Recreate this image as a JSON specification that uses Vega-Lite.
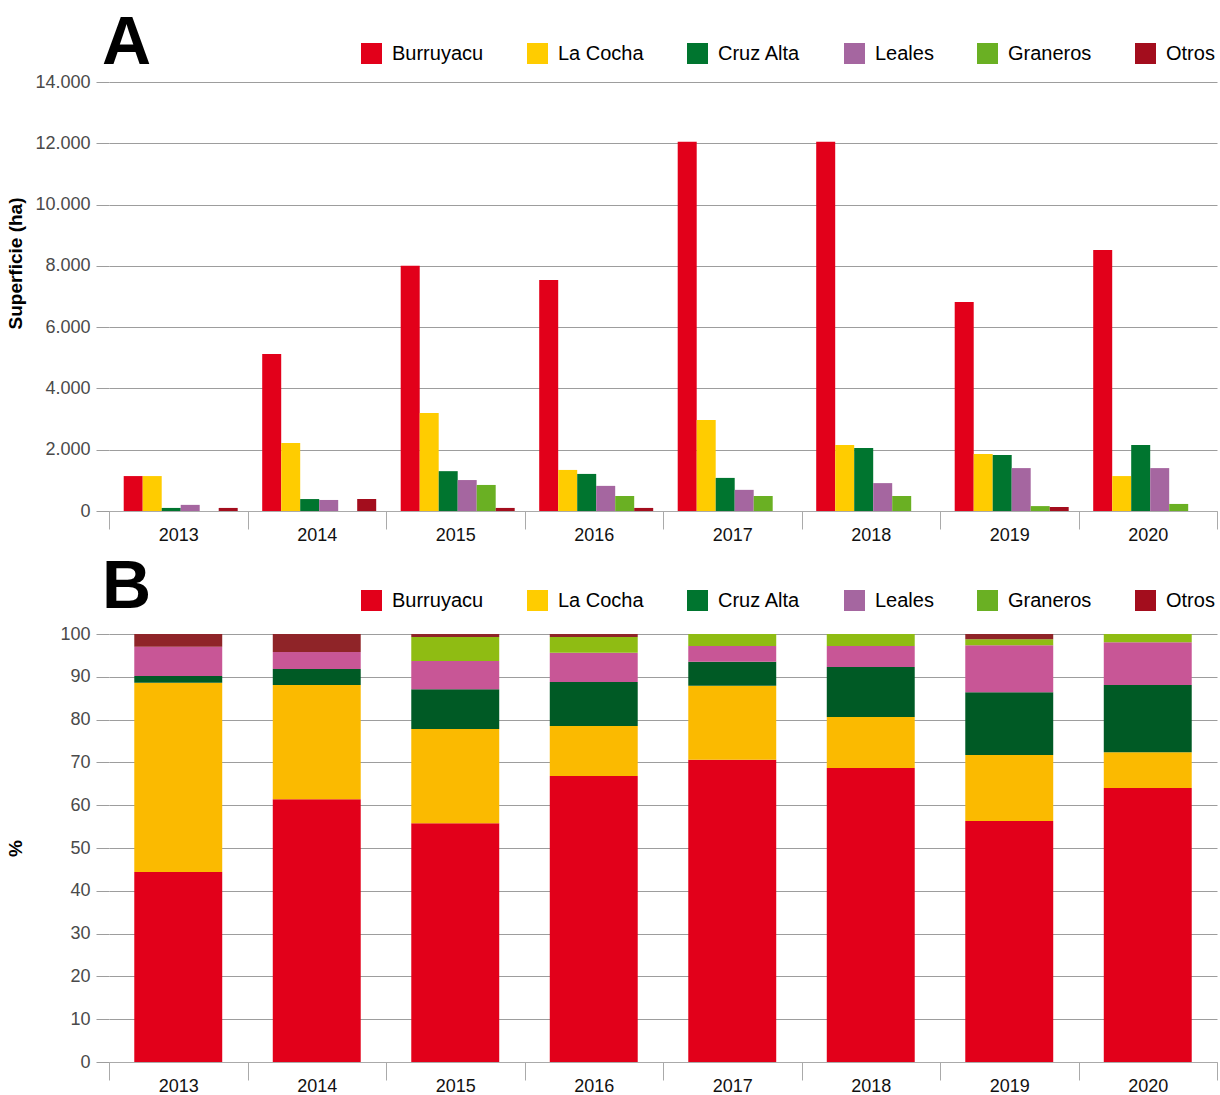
{
  "$schema": "https://vega.github.io/schema/vega-lite/v6.json",
  "padding": {"top": 10, "left": 6, "right": 2, "bottom": 0},
  "background": "white",
  "datasets": {
    "area": [
      {"year": "2013", "district": "Burruyacu", "ha": 1140},
      {"year": "2013", "district": "La Cocha", "ha": 1140},
      {"year": "2013", "district": "Cruz Alta", "ha": 100},
      {"year": "2013", "district": "Leales", "ha": 200},
      {"year": "2013", "district": "Graneros", "ha": 0},
      {"year": "2013", "district": "Otros", "ha": 100},
      {"year": "2014", "district": "Burruyacu", "ha": 5120},
      {"year": "2014", "district": "La Cocha", "ha": 2220},
      {"year": "2014", "district": "Cruz Alta", "ha": 390},
      {"year": "2014", "district": "Leales", "ha": 360},
      {"year": "2014", "district": "Graneros", "ha": 0},
      {"year": "2014", "district": "Otros", "ha": 390},
      {"year": "2015", "district": "Burruyacu", "ha": 8000},
      {"year": "2015", "district": "La Cocha", "ha": 3200},
      {"year": "2015", "district": "Cruz Alta", "ha": 1300},
      {"year": "2015", "district": "Leales", "ha": 1010},
      {"year": "2015", "district": "Graneros", "ha": 850},
      {"year": "2015", "district": "Otros", "ha": 100},
      {"year": "2016", "district": "Burruyacu", "ha": 7540},
      {"year": "2016", "district": "La Cocha", "ha": 1340},
      {"year": "2016", "district": "Cruz Alta", "ha": 1210},
      {"year": "2016", "district": "Leales", "ha": 820},
      {"year": "2016", "district": "Graneros", "ha": 490},
      {"year": "2016", "district": "Otros", "ha": 100},
      {"year": "2017", "district": "Burruyacu", "ha": 12050},
      {"year": "2017", "district": "La Cocha", "ha": 2970},
      {"year": "2017", "district": "Cruz Alta", "ha": 1080},
      {"year": "2017", "district": "Leales", "ha": 690},
      {"year": "2017", "district": "Graneros", "ha": 490},
      {"year": "2017", "district": "Otros", "ha": 0},
      {"year": "2018", "district": "Burruyacu", "ha": 12050},
      {"year": "2018", "district": "La Cocha", "ha": 2150},
      {"year": "2018", "district": "Cruz Alta", "ha": 2060},
      {"year": "2018", "district": "Leales", "ha": 910},
      {"year": "2018", "district": "Graneros", "ha": 490},
      {"year": "2018", "district": "Otros", "ha": 0},
      {"year": "2019", "district": "Burruyacu", "ha": 6820},
      {"year": "2019", "district": "La Cocha", "ha": 1860},
      {"year": "2019", "district": "Cruz Alta", "ha": 1830},
      {"year": "2019", "district": "Leales", "ha": 1400},
      {"year": "2019", "district": "Graneros", "ha": 160},
      {"year": "2019", "district": "Otros", "ha": 130},
      {"year": "2020", "district": "Burruyacu", "ha": 8520},
      {"year": "2020", "district": "La Cocha", "ha": 1140},
      {"year": "2020", "district": "Cruz Alta", "ha": 2150},
      {"year": "2020", "district": "Leales", "ha": 1400},
      {"year": "2020", "district": "Graneros", "ha": 230},
      {"year": "2020", "district": "Otros", "ha": 0}
    ],
    "pct": [
      {"year": "2013", "district": "Burruyacu", "pct": 44.4},
      {"year": "2013", "district": "La Cocha", "pct": 44.2},
      {"year": "2013", "district": "Cruz Alta", "pct": 1.6},
      {"year": "2013", "district": "Leales", "pct": 6.8},
      {"year": "2013", "district": "Graneros", "pct": 0},
      {"year": "2013", "district": "Otros", "pct": 3.0},
      {"year": "2014", "district": "Burruyacu", "pct": 61.4},
      {"year": "2014", "district": "La Cocha", "pct": 26.7},
      {"year": "2014", "district": "Cruz Alta", "pct": 3.7},
      {"year": "2014", "district": "Leales", "pct": 4.0},
      {"year": "2014", "district": "Graneros", "pct": 0},
      {"year": "2014", "district": "Otros", "pct": 4.2},
      {"year": "2015", "district": "Burruyacu", "pct": 55.8},
      {"year": "2015", "district": "La Cocha", "pct": 22.0},
      {"year": "2015", "district": "Cruz Alta", "pct": 9.3},
      {"year": "2015", "district": "Leales", "pct": 6.6},
      {"year": "2015", "district": "Graneros", "pct": 5.6},
      {"year": "2015", "district": "Otros", "pct": 0.7},
      {"year": "2016", "district": "Burruyacu", "pct": 66.8},
      {"year": "2016", "district": "La Cocha", "pct": 11.7},
      {"year": "2016", "district": "Cruz Alta", "pct": 10.3},
      {"year": "2016", "district": "Leales", "pct": 6.8},
      {"year": "2016", "district": "Graneros", "pct": 3.7},
      {"year": "2016", "district": "Otros", "pct": 0.7},
      {"year": "2017", "district": "Burruyacu", "pct": 70.6},
      {"year": "2017", "district": "La Cocha", "pct": 17.3},
      {"year": "2017", "district": "Cruz Alta", "pct": 5.6},
      {"year": "2017", "district": "Leales", "pct": 3.7},
      {"year": "2017", "district": "Graneros", "pct": 2.8},
      {"year": "2017", "district": "Otros", "pct": 0},
      {"year": "2018", "district": "Burruyacu", "pct": 68.7},
      {"year": "2018", "district": "La Cocha", "pct": 11.9},
      {"year": "2018", "district": "Cruz Alta", "pct": 11.7},
      {"year": "2018", "district": "Leales", "pct": 4.9},
      {"year": "2018", "district": "Graneros", "pct": 2.8},
      {"year": "2018", "district": "Otros", "pct": 0},
      {"year": "2019", "district": "Burruyacu", "pct": 56.3},
      {"year": "2019", "district": "La Cocha", "pct": 15.4},
      {"year": "2019", "district": "Cruz Alta", "pct": 14.7},
      {"year": "2019", "district": "Leales", "pct": 11.0},
      {"year": "2019", "district": "Graneros", "pct": 1.4},
      {"year": "2019", "district": "Otros", "pct": 1.2},
      {"year": "2020", "district": "Burruyacu", "pct": 64.0},
      {"year": "2020", "district": "La Cocha", "pct": 8.4},
      {"year": "2020", "district": "Cruz Alta", "pct": 15.7},
      {"year": "2020", "district": "Leales", "pct": 10.0},
      {"year": "2020", "district": "Graneros", "pct": 1.9},
      {"year": "2020", "district": "Otros", "pct": 0}
    ]
  },
  "vconcat": [
    {
      "width": 1108,
      "height": 429,
      "title": {"text": "A", "fontSize": 68, "fontWeight": "bold", "color": "black", "anchor": "start", "frame": "group", "dx": -7, "offset": -35},
      "data": {"name": "area"},
      "mark": {"type": "bar"},
      "encoding": {
        "x": {"field": "year", "type": "nominal", "scale": {"paddingInner": 0, "paddingOuter": 0}, "axis": {"title": null}},
        "xOffset": {"field": "district", "type": "nominal", "scale": {"domain": ["Burruyacu", "La Cocha", "Cruz Alta", "Leales", "Graneros", "Otros"], "paddingInner": 0, "paddingOuter": 0.645, "align": 0.6}},
        "y": {"field": "ha", "type": "quantitative", "scale": {"domain": [0, 14000]}, "axis": {"title": "Superficie (ha)", "values": [0, 2000, 4000, 6000, 8000, 10000, 12000, 14000], "format": ",d", "titleY": 181}},
        "color": {
          "field": "district", "type": "nominal",
          "scale": {"domain": ["Burruyacu", "La Cocha", "Cruz Alta", "Leales", "Graneros", "Otros"], "range": ["#e2001a", "#ffcc00", "#00752f", "#a566a0", "#6ab023", "#a30d1d"]},
          "legend": {"title": null, "orient": "none", "direction": "horizontal", "legendX": 252, "legendY": -39, "symbolType": "square", "symbolSize": 441, "symbolStrokeWidth": 0, "labelFontSize": 20, "labelColor": "black", "labelOffset": 10, "columnPadding": 43, "labelLimit": 300}
        }
      }
    },
    {
      "width": 1108,
      "height": 428,
      "title": {"text": "B", "fontSize": 68, "fontWeight": "bold", "color": "black", "anchor": "start", "frame": "group", "dx": -7, "offset": -32},
      "data": {"name": "pct"},
      "transform": [
        {"calculate": "indexof(['Burruyacu','La Cocha','Cruz Alta','Leales','Graneros','Otros'], datum.district)", "as": "ord"}
      ],
      "encoding": {
        "x": {"field": "year", "type": "nominal", "scale": {"paddingInner": 0, "paddingOuter": 0}, "axis": {"title": null}},
        "y": {"field": "pct", "type": "quantitative", "scale": {"domain": [0, 100]}, "axis": {"title": "%", "values": [0, 10, 20, 30, 40, 50, 60, 70, 80, 90, 100]}}
      },
      "layer": [
        {
          "mark": {"type": "bar", "width": {"band": 0.635}},
          "encoding": {
            "y": {"field": "pct", "type": "quantitative", "stack": "zero"},
            "order": {"field": "ord", "type": "quantitative"},
            "fill": {
              "field": "district", "type": "nominal",
              "scale": {"domain": ["Burruyacu", "La Cocha", "Cruz Alta", "Leales", "Graneros", "Otros"], "range": ["#e2001a", "#fbba00", "#005a25", "#c85696", "#8fbc13", "#8f2428"]},
              "legend": null
            }
          }
        },
        {
          "mark": {"type": "point", "shape": "square", "filled": true, "size": 0},
          "encoding": {
            "y": {"field": "pct", "type": "quantitative", "stack": null},
            "color": {
              "field": "district", "type": "nominal",
              "sort": ["Burruyacu", "La Cocha", "Cruz Alta", "Leales", "Graneros", "Otros"],
              "scale": {"range": ["#e2001a", "#ffcc00", "#00752f", "#a566a0", "#6ab023", "#a30d1d"]},
              "legend": {"title": null, "orient": "none", "direction": "horizontal", "legendX": 252, "legendY": -44, "symbolType": "square", "symbolSize": 441, "symbolStrokeWidth": 0, "symbolOpacity": 1, "labelFontSize": 20, "labelColor": "black", "labelOffset": 10, "columnPadding": 43, "labelLimit": 300}
            }
          }
        }
      ]
    }
  ],
  "spacing": 10,
  "resolve": {"scale": {"color": "independent", "fill": "independent"}, "legend": {"color": "independent"}},
  "config": {
    "view": {"stroke": null},
    "font": "Liberation Sans",
    "locale": {"number": {"decimal": ",", "thousands": ".", "grouping": [3], "currency": ["$", ""]}},
    "axisY": {
      "grid": true, "gridColor": "#9d9d9d", "gridWidth": 1, "domain": false,
      "tickSize": 13, "tickColor": "#9d9d9d", "labelFontSize": 18, "labelColor": "#4a4a4a",
      "labelPadding": 6, "titleFontSize": 19, "titleFontWeight": "bold", "titleColor": "black", "titleX": -84
    },
    "axisX": {
      "grid": false, "domainColor": "#aaaaaa", "tickColor": "#aaaaaa", "tickSize": 18, "tickBand": "extent",
      "labelAngle": 0, "labelFontSize": 18, "labelColor": "#111111", "labelPadding": -3
    }
  }
}
